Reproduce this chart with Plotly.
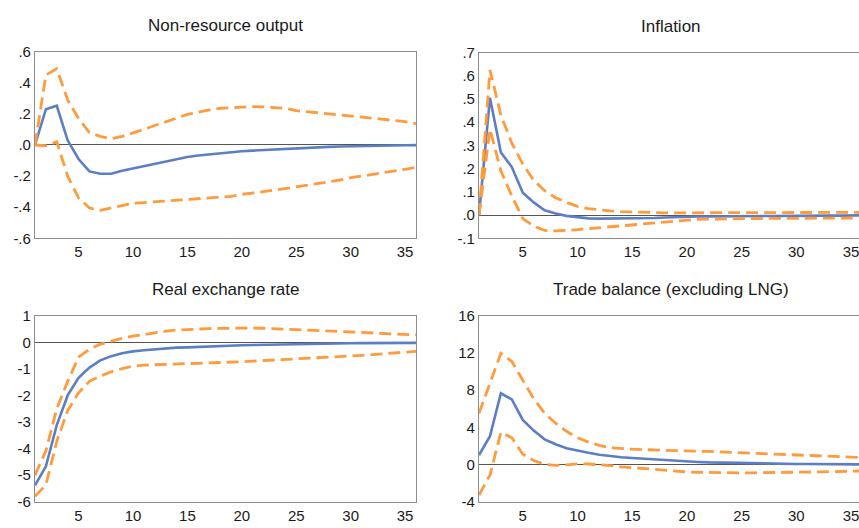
import plotly.graph_objects as go

W, H = 859, 528
periods = list(range(1, 37))

titles = ["Non-resource output", "Inflation", "Real exchange rate", "Trade balance (excluding LNG)"]

out_mid = [0.0, 0.23, 0.252, 0.03, -0.09, -0.17, -0.185, -0.185, -0.165, -0.15,
           -0.135, -0.12, -0.105, -0.09, -0.077, -0.068, -0.06, -0.052, -0.045, -0.04,
           -0.036, -0.032, -0.028, -0.024, -0.02, -0.017, -0.014, -0.012, -0.01, -0.008,
           -0.006, -0.005, -0.004, -0.003, -0.002, -0.001]
out_hi = [0.0, 0.45, 0.49, 0.29, 0.17, 0.08, 0.055, 0.04, 0.055, 0.075,
          0.10, 0.125, 0.15, 0.175, 0.196, 0.21, 0.225, 0.235, 0.24, 0.246,
          0.247, 0.245, 0.24, 0.235, 0.22, 0.215, 0.207, 0.2, 0.193, 0.19,
          0.18, 0.172, 0.165, 0.157, 0.15, 0.137]
out_lo = [0.0, -0.005, 0.02, -0.2, -0.34, -0.405, -0.42, -0.405, -0.39, -0.375,
          -0.37, -0.365, -0.36, -0.357, -0.352, -0.348, -0.344, -0.338, -0.33, -0.317,
          -0.31, -0.30, -0.29, -0.28, -0.27, -0.26, -0.25, -0.237, -0.225, -0.21,
          -0.2, -0.19, -0.18, -0.168, -0.156, -0.144]

inf_mid = [0.0, 0.505, 0.27, 0.207, 0.096, 0.055, 0.021, 0.007, -0.003, -0.008,
           -0.014, -0.015, -0.015, -0.015, -0.015, -0.013, -0.012, -0.01, -0.008, -0.007,
           -0.006, -0.006, -0.005, -0.005, -0.005, -0.004, -0.004, -0.004, -0.003, -0.003,
           -0.003, -0.002, -0.002, -0.002, -0.001, -0.001]
inf_hi = [0.0, 0.625, 0.43, 0.31, 0.22, 0.15, 0.105, 0.075, 0.055, 0.038,
          0.028, 0.022, 0.018, 0.015, 0.013, 0.012, 0.011, 0.01, 0.01, 0.01,
          0.01, 0.01, 0.01, 0.011, 0.011, 0.011, 0.011, 0.011, 0.011, 0.012,
          0.012, 0.012, 0.012, 0.012, 0.012, 0.012]
inf_lo = [0.0, 0.37, 0.19, 0.083, -0.015, -0.047, -0.066, -0.068, -0.066, -0.062,
          -0.058, -0.053, -0.048, -0.044, -0.04, -0.036, -0.032, -0.028, -0.024, -0.02,
          -0.018, -0.017, -0.016, -0.016, -0.015, -0.015, -0.015, -0.014, -0.014, -0.014,
          -0.013, -0.013, -0.013, -0.012, -0.012, -0.012]

rer_mid = [-5.39, -4.67, -3.12, -2.0, -1.34, -0.95, -0.68, -0.52, -0.41, -0.34,
           -0.3, -0.26, -0.22, -0.2, -0.19, -0.17, -0.16, -0.15, -0.13, -0.11,
           -0.1, -0.09, -0.08, -0.07, -0.06, -0.055, -0.05, -0.045, -0.04, -0.035,
           -0.03, -0.028, -0.026, -0.024, -0.022, -0.02]
rer_hi = [-5.0, -4.09, -2.5, -1.47, -0.56, -0.26, -0.07, 0.05, 0.15, 0.23,
          0.3, 0.37, 0.42, 0.46, 0.47, 0.5, 0.52, 0.53, 0.54, 0.54,
          0.54, 0.53, 0.52, 0.51, 0.48, 0.46, 0.45, 0.43, 0.41, 0.39,
          0.37, 0.35, 0.33, 0.31, 0.3, 0.28]
rer_lo = [-5.8, -5.37, -3.73, -2.57, -1.9, -1.47, -1.27, -1.11, -0.99, -0.9,
          -0.86, -0.84, -0.83, -0.82, -0.8, -0.79, -0.78, -0.77, -0.75, -0.73,
          -0.71, -0.69, -0.67, -0.65, -0.63, -0.6, -0.58, -0.56, -0.54, -0.52,
          -0.49, -0.46, -0.43, -0.4, -0.37, -0.34]

tb_mid = [1.0, 3.04, 7.66, 7.0, 4.8, 3.64, 2.7, 2.17, 1.75, 1.47,
          1.25, 1.05, 0.9, 0.78, 0.7, 0.62, 0.52, 0.45, 0.38, 0.32,
          0.27, 0.22, 0.19, 0.16, 0.13, 0.11, 0.09, 0.08, 0.06, 0.05,
          0.04, 0.03, 0.03, 0.02, 0.02, 0.01]
tb_hi = [5.5, 8.64, 11.96, 11.08, 9.0, 7.08, 5.5, 4.44, 3.57, 2.87,
         2.4, 2.05, 1.8, 1.7, 1.64, 1.6, 1.55, 1.5, 1.48, 1.45,
         1.42, 1.4, 1.35, 1.3, 1.27, 1.22, 1.18, 1.13, 1.08, 1.03,
         0.98, 0.93, 0.88, 0.83, 0.78, 0.74]
tb_lo = [-3.3, -1.15, 3.46, 2.87, 1.12, 0.42, 0.0, -0.1, -0.05, 0.07,
         0.05, -0.02, -0.12, -0.25, -0.35, -0.45, -0.55, -0.65, -0.75, -0.8,
         -0.85, -0.88, -0.9, -0.9, -0.9, -0.9, -0.9, -0.9, -0.88, -0.85,
         -0.82, -0.8, -0.78, -0.75, -0.72, -0.7]

y_ticks = [
    ([-0.6, -0.4, -0.2, 0.0, 0.2, 0.4, 0.6], ["-.6", "-.4", "-.2", ".0", ".2", ".4", ".6"]),
    ([-0.1, 0.0, 0.1, 0.2, 0.3, 0.4, 0.5, 0.6, 0.7], ["-.1", ".0", ".1", ".2", ".3", ".4", ".5", ".6", ".7"]),
    ([-6, -5, -4, -3, -2, -1, 0, 1], ["-6", "-5", "-4", "-3", "-2", "-1", "0", "1"]),
    ([-4, 0, 4, 8, 12, 16], ["-4", "0", "4", "8", "12", "16"]),
]
y_ranges = [[-0.6, 0.6], [-0.1, 0.7], [-6, 1], [-4, 16]]
x_ticks = [5, 10, 15, 20, 25, 30, 35]

series = [(out_mid, out_hi, out_lo), (inf_mid, inf_hi, inf_lo),
          (rer_mid, rer_hi, rer_lo), (tb_mid, tb_hi, tb_lo)]

BLUE = "#5b7ec4"
ORANGE = "#ff9a3d"
FONT = "Liberation Sans, Arial, sans-serif"

# panel pixel boxes: (left, right, top, bottom)
boxes = [(35, 416, 44, 237), (479, 862, 45, 237), (35, 416, 317, 509), (479, 862, 317, 509)]

fig = go.Figure()
layout = dict(width=W, height=H, margin=dict(l=0, r=0, t=0, b=0),
              paper_bgcolor="white", plot_bgcolor="white", showlegend=False,
              font=dict(family=FONT, size=15, color="#1a1a1a"))
annotations = []
for i, (mid, hi, lo) in enumerate(series):
    n = i + 1
    xa = "x" if n == 1 else f"x{n}"
    ya = "y" if n == 1 else f"y{n}"
    for vals, col, dash, wdt in [(mid, BLUE, "solid", 2.6), (hi, ORANGE, "12px,6px", 2.8), (lo, ORANGE, "12px,6px", 2.8)]:
        fig.add_trace(go.Scatter(x=periods, y=vals, mode="lines", xaxis=xa, yaxis=ya,
                                 line=dict(color=col, width=wdt, dash=dash), hoverinfo="skip"))
    l, r, t, b = boxes[i]
    right_cut = r > W
    x0 = l / W
    x1 = min(r, W) / W
    xmax = 36 if not right_cut else 1 + (W - l) * 35 / (r - l)
    layout["xaxis" if n == 1 else f"xaxis{n}"] = dict(
        domain=[x0, x1], range=[1, xmax], anchor=ya, tickvals=x_ticks,
        ticks="", showgrid=False, zeroline=False, showline=True, mirror=True,
        linecolor="#8c8c8c", linewidth=1.2, tickfont=dict(size=15),
        ticklabeloverflow="allow")
    tv, tt = y_ticks[i]
    layout["yaxis" if n == 1 else f"yaxis{n}"] = dict(
        domain=[1 - b / H, 1 - t / H], range=y_ranges[i], anchor=xa,
        tickvals=tv, ticktext=tt, ticks="", showgrid=False,
        zeroline=True, zerolinecolor="#555555", zerolinewidth=1,
        showline=True, mirror=(not right_cut), linecolor="#8c8c8c", linewidth=1.2,
        tickfont=dict(size=15))
    annotations.append(dict(text=titles[i], xref="paper", yref="paper",
                            x=((l + r) / 2) / W, y=1 - (t - 27) / H,
                            xanchor="center", yanchor="middle", showarrow=False,
                            font=dict(size=17, family=FONT, color="#1a1a1a")))
layout["annotations"] = annotations
fig.update_layout(**layout)
fig.write_html("out.html")
